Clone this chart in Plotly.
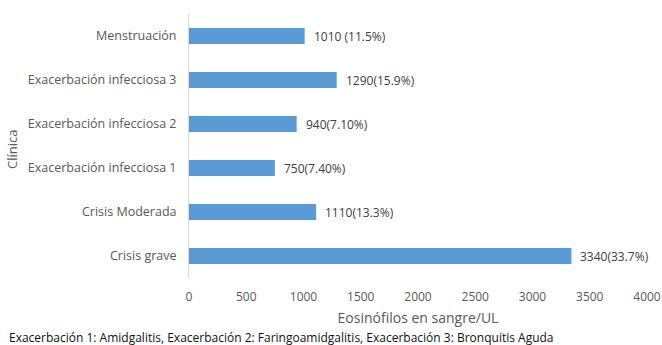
import plotly.graph_objects as go

categories = ["Crisis grave", "Crisis Moderada", "Exacerbación infecciosa 1",
              "Exacerbación infecciosa 2", "Exacerbación infecciosa 3", "Menstruación"]
values = [3340, 1110, 750, 940, 1290, 1010]
labels = ["3340(33.7%)", "1110(13.3%)", "750(7.40%)", "940(7.10%)", "1290(15.9%)", "1010 (11.5%)"]
x_ticks = [0, 500, 1000, 1500, 2000, 2500, 3000, 3500, 4000]

font_family = "Open Sans, Liberation Sans, sans-serif"
gray = "#595959"

fig = go.Figure(go.Bar(
    y=categories, x=values, orientation="h",
    marker=dict(color="#5B9BD5", line=dict(width=0)),
))

W, H = 662, 345
L, R, T, B = 189, 15, 14, 67
pw, ph = W - L - R, H - T - B

annotations = [dict(x=v, y=c, xref="x", yref="y", text=t, showarrow=False,
                    xanchor="left", yanchor="middle", xshift=7,
                    font=dict(size=12, color="#404040", family=font_family))
               for v, c, t in zip(values, categories, labels)]
annotations.append(dict(text="Clínica", x=(12 - L) / pw, y=(H - B - 150) / ph,
                        xref="paper", yref="paper", showarrow=False, textangle=-90,
                        xanchor="center", yanchor="middle",
                        font=dict(size=13, color=gray, family=font_family)))
annotations.append(dict(text="Exacerbación 1: Amidgalitis, Exacerbación 2: Faringoamidgalitis, Exacerbación 3: Bronquitis Aguda",
                        x=(7 - L) / pw, y=(H - B - 337) / ph, xref="paper", yref="paper",
                        showarrow=False, xanchor="left", yanchor="middle",
                        font=dict(size=12, color="#111111", family=font_family)))

fig.update_layout(
    width=W, height=H,
    margin=dict(l=L, r=R, t=T, b=B, autoexpand=False),
    paper_bgcolor="white", plot_bgcolor="white",
    bargap=0.64,
    showlegend=False,
    font=dict(family=font_family, size=12, color=gray),
    xaxis=dict(range=[0, 4000], tickvals=x_ticks, showgrid=False, zeroline=False,
               showline=False, ticks="", automargin=False, ticklabelstandoff=10,
               tickfont=dict(size=12, color=gray),
               title=dict(text="Eosinófilos en sangre/UL", font=dict(size=14, color=gray), standoff=9)),
    yaxis=dict(showgrid=False, zeroline=False, showline=True, linecolor="#D9D9D9", linewidth=1,
               ticks="", automargin=False, ticklabelstandoff=9,
               tickfont=dict(size=12.5, color=gray)),
    annotations=annotations,
)

fig.write_html("out.html")
